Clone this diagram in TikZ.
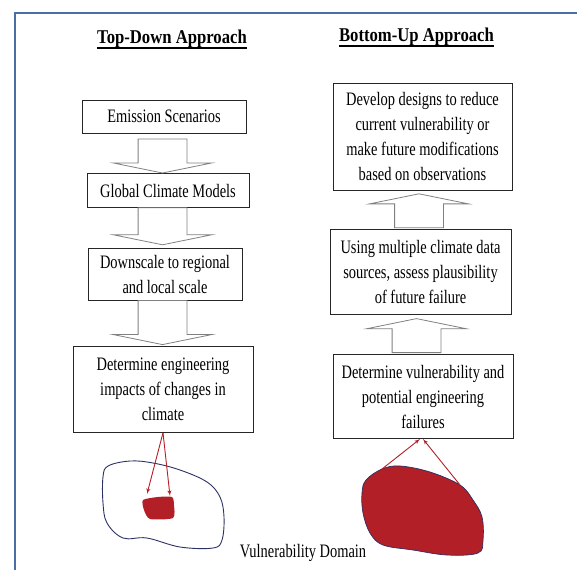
\documentclass[tikz,border=0pt]{standalone}
\usepackage{fontspec}
\setmainfont{Liberation Serif}[FakeStretch=0.76]
\newfontfamily\headfont{Liberation Serif}[FakeStretch=0.855]
\usetikzlibrary{shapes,arrows,positioning}
\definecolor{framecol}{HTML}{4A6EA6}
\definecolor{blobred}{HTML}{B21F26}
\definecolor{blobline}{HTML}{2B3163}

\begin{document}
\begin{tikzpicture}[x=1pt, y=-1pt]
    % Define block styles
    \tikzstyle{box} = [rectangle, draw=black!85, line width=0.8pt, align=center,
        inner sep=2pt, font=\fontsize{19pt}{25pt}\selectfont]
    \tikzstyle{head} = [inner sep=0pt, font=\headfont\fontsize{19.5pt}{23pt}\selectfont\bfseries]
    \tikzstyle{fat} = [single arrow, draw=black!50, fill=white, line width=0.8pt,
        inner xsep=0pt, inner ysep=24pt, minimum width=98pt, single arrow head extend=25pt,
        single arrow tip angle=157]
    \tikzstyle{line} = [draw=blobred, line width=0.9pt, -latex']

    \useasboundingbox (0,0) rectangle (577,570);
    \draw[framecol, line width=1.5pt] (15,570) -- (15,13) -- (577,13);

    % Headings
    \node [head, anchor=base] (tdhead) at (172,43) {Top-Down Approach};
    \node [head, anchor=base] (buhead) at (416.5,41) {Bottom-Up Approach};
    \draw [line width=1.6pt] ([yshift=-5pt]tdhead.base west) -- ([yshift=-5pt]tdhead.base east);
    \draw [line width=1.6pt] ([yshift=-5pt]buhead.base west) -- ([yshift=-5pt]buhead.base east);

    % Top-down column
    \node [box, minimum width=164pt, minimum height=33pt] (emis) at (164,116.5) {Emission Scenarios};
    \node [box, minimum width=162pt, minimum height=34pt, below=40pt of emis, xshift=4pt] (gcm) {Global Climate Models};
    \node [box, minimum width=154pt, minimum height=52pt, below=40pt of gcm, xshift=-3pt] (down) {Downscale to regional\\and local scale};
    \node [box, minimum width=180pt, minimum height=86pt, below=45pt of down, xshift=-2pt] (impact) {Determine engineering\\impacts of changes in\\climate};

    % Bottom-up column
    \node [box, minimum width=179pt, minimum height=107pt] (dev) at (422.5,136.5) {Develop designs to reduce\\current vulnerability or\\make future modifications\\based on observations};
    \node [box, minimum width=181pt, minimum height=85pt, below=39pt of dev, xshift=-2pt] (using) {Using multiple climate data\\sources, assess plausibility\\of future failure};
    \node [box, minimum width=180pt, minimum height=84pt, below=39pt of using, xshift=2.5pt] (vuln) {Determine vulnerability and\\potential engineering\\failures};

    % Block arrows
    \node [fat, rotate=-90, minimum height=34pt, anchor=tip] (td1) at ([xshift=-5.5pt]gcm.north) {};
    \node [fat, rotate=-90, minimum height=37pt, anchor=tip] (td2) at ([xshift=-2.5pt,yshift=3pt]down.north) {};
    \node [fat, rotate=-90, minimum height=44pt, anchor=tip] (td3) at ([xshift=-0.5pt,yshift=1pt]impact.north) {};
    \node [fat, rotate=90, minimum height=34pt, anchor=tip] (bu1) at ([xshift=-3.5pt,yshift=-3pt]dev.south) {};
    \node [fat, rotate=90, minimum height=34pt, anchor=tip] (bu2) at ([xshift=-4pt,yshift=-3pt]using.south) {};

    % Vulnerability domains
    \draw [blobline, line width=0.9pt] plot [smooth cycle, tension=0.6] coordinates {
        (103,477) (108,466) (130,461) (153,463) (180,470) (207,482) (220,497)
        (224,517) (222,540) (213,548) (180,547) (147,538) (123,538) (107,523) (103,503)};
    \fill [blobred] plot [smooth cycle, tension=0.4] coordinates {
        (143,500) (158,497) (172,497) (174,505) (173,518) (150,519) (144,510)};
    \filldraw [fill=blobred, draw=blobline, line width=0.7pt] plot [smooth cycle, tension=0.6] coordinates {
        (362,493) (366,480) (382,469) (400,466) (430,472) (460,485) (473,500)
        (482,517) (483,540) (478,553) (447,555) (413,550) (383,545) (370,533) (363,513)};
    \node [anchor=base, font=\fontsize{19pt}{25pt}\selectfont] (vdom) at (303,557) {Vulnerability Domain};

    % Red pointers
    \coordinate (smallL) at (147,494);
    \coordinate (smallR) at (170,496);
    \coordinate (bigL) at (382,469);
    \coordinate (bigR) at (460,485);
    \path [line] (impact.south) -- (smallL);
    \path [line] (impact.south) -- (smallR);
    \path [line] (bigL) -- ([xshift=-3pt]vuln.south);
    \path [line] (bigR) -- (vuln.south);
\end{tikzpicture}
\end{document}
